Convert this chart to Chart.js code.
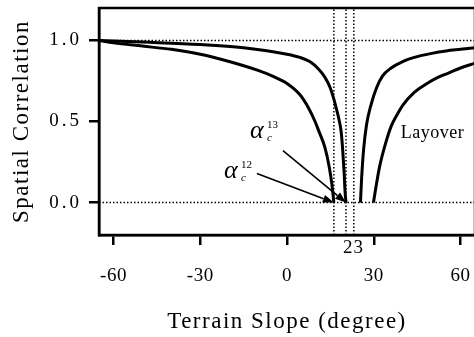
<!DOCTYPE html>
<html>
<head>
<meta charset="utf-8">
<script src="https://cdn.jsdelivr.net/npm/chart.js@4"></script>
<style>
html, body { margin: 0; padding: 0; overflow: hidden; background: #fff; }
</style>
</head>
<body>
<canvas id="chart" width="480" height="337"></canvas>
<script>
const xTicks = [-60, -30, 0, 30, 60];
const yTicks = [0, 0.5, 1.0];
const incidence = 23;

// baseline 12 (outer curves)
const b12LeftX  = [-65, -60, -50, -40, -30, -20, -10, -5, 0, 4.5, 7.4, 9.7, 10.8, 13.1, 14.6, 15.5, 16.2];
const b12LeftY  = [1.0, 0.985, 0.965, 0.945, 0.915, 0.87, 0.815, 0.78, 0.735, 0.665, 0.585, 0.50, 0.45, 0.34, 0.22, 0.115, 0.0];
const b12RightX = [29.9, 30.8, 32, 34, 36, 38, 40, 44, 48, 52, 56, 60, 65];
const b12RightY = [0.0, 0.1, 0.22, 0.36, 0.47, 0.54, 0.6, 0.68, 0.73, 0.77, 0.8, 0.83, 0.86];

// baseline 13 (inner curves)
const b13LeftX  = [-65, -50, -30, -15, 0, 4.5, 8, 10.8, 13.1, 14.9, 16, 17.2, 18, 18.7, 19.2, 19.7, 20.1, 20.4];
const b13LeftY  = [1.0, 0.99, 0.975, 0.955, 0.915, 0.895, 0.868, 0.825, 0.773, 0.71, 0.65, 0.57, 0.51, 0.44, 0.34, 0.2, 0.06, 0.0];
const b13RightX = [25.4, 25.8, 26.5, 27.5, 29, 31, 33, 36, 40, 45, 50, 55, 60, 65];
const b13RightY = [0.0, 0.15, 0.33, 0.48, 0.6, 0.71, 0.78, 0.83, 0.87, 0.9, 0.92, 0.935, 0.945, 0.955];

// dotted guide lines
const guideX = [16.2, 20.4, 23.1];
const guideY = [0, 1];

const xMin = -65, xMax = 65, yMin = -0.2, yMax = 1.2;

function pts(xs, ys) {
    return xs.map((x, i) => ({ x: x, y: ys[i] }));
}

function curve(xs, ys) {
    return {
        data: pts(xs, ys),
        borderColor: '#000',
        borderWidth: 3,
        pointRadius: 0,
        cubicInterpolationMode: 'monotone',
        fill: false
    };
}

function guide(data) {
    return {
        data: data,
        borderColor: '#000',
        borderWidth: 1.5,
        borderDash: [1.5, 2],
        pointRadius: 0,
        tension: 0,
        fill: false
    };
}

const datasets = [];
guideY.forEach(v => datasets.push(guide([{ x: xMin, y: v }, { x: xMax, y: v }])));
guideX.forEach(v => datasets.push(guide([{ x: v, y: yMin }, { x: v, y: yMax }])));
datasets.push(curve(b12LeftX, b12LeftY));
datasets.push(curve(b12RightX, b12RightY));
datasets.push(curve(b13LeftX, b13LeftY));
datasets.push(curve(b13RightX, b13RightY));

function arrow(ctx, x1, y1, x2, y2) {
    const a = Math.atan2(y2 - y1, x2 - x1);
    const head = 11, half = 4;
    const bx = x2 - head * Math.cos(a), by = y2 - head * Math.sin(a);
    ctx.beginPath();
    ctx.moveTo(x1, y1);
    ctx.lineTo(bx, by);
    ctx.stroke();
    ctx.beginPath();
    ctx.moveTo(x2, y2);
    ctx.lineTo(bx + half * Math.sin(a), by - half * Math.cos(a));
    ctx.lineTo(bx - half * Math.sin(a), by + half * Math.cos(a));
    ctx.closePath();
    ctx.fill();
}

function alphaLabel(ctx, px, py, sup) {
    ctx.textAlign = 'left';
    ctx.textBaseline = 'alphabetic';
    ctx.font = 'italic 26px "Liberation Serif"';
    ctx.fillText('α', px, py);
    ctx.font = '11px "Liberation Serif"';
    ctx.fillText(sup, px + 17, py - 10);
    ctx.font = 'italic 11px "Liberation Serif"';
    ctx.fillText('c', px + 17, py + 3);
}

const noPadding = scale => {
    scale.paddingTop = 0;
    scale.paddingBottom = 0;
    scale.paddingLeft = 0;
    scale.paddingRight = 0;
};

// tick labels of each axis get their own letter spacing
function spacedLabels(spacing) {
    return scale => {
        if (scale._spaced) return;
        const orig = scale.drawLabels;
        scale.drawLabels = function (area) {
            const prev = this.ctx.letterSpacing;
            this.ctx.letterSpacing = spacing;
            orig.call(this, area);
            this.ctx.letterSpacing = prev;
        };
        scale._spaced = true;
    };
}

const annotate = {
    id: 'annotate',
    beforeDraw(chart) {
        chart.ctx.letterSpacing = '1.5px';
    },
    afterDraw(chart) {
        const { ctx, chartArea: a, scales: { x, y } } = chart;
        ctx.save();
        ctx.letterSpacing = '0px';
        ctx.strokeStyle = '#000';
        ctx.fillStyle = '#000';

        // plot frame
        ctx.lineWidth = 2.5;
        ctx.strokeRect(a.left, a.top, a.right - a.left, a.bottom - a.top);

        // arrows to the critical slopes
        ctx.lineWidth = 1.6;
        arrow(ctx, x.getPixelForValue(-1.4), y.getPixelForValue(0.32), x.getPixelForValue(guideX[1]), y.getPixelForValue(0));
        arrow(ctx, x.getPixelForValue(-10.4), y.getPixelForValue(0.18), x.getPixelForValue(guideX[0]), y.getPixelForValue(0));

        alphaLabel(ctx, x.getPixelForValue(-12.8), y.getPixelForValue(0.40), '13');
        alphaLabel(ctx, x.getPixelForValue(-21.8), y.getPixelForValue(0.154), '12');

        ctx.letterSpacing = '0.5px';
        ctx.font = '18px "Liberation Serif"';
        ctx.textAlign = 'center';
        ctx.textBaseline = 'middle';
        ctx.fillText('Layover', x.getPixelForValue(50.3), y.getPixelForValue(0.43));

        ctx.letterSpacing = '1px';
        ctx.font = '19px "Liberation Serif"';
        ctx.fillText(String(incidence), x.getPixelForValue(incidence), a.bottom + 13);
        ctx.restore();
    }
};

new Chart(document.getElementById('chart'), {
    type: 'line',
    data: { datasets: datasets },
    options: {
        responsive: false,
        animation: false,
        layout: { padding: { top: 8, right: 5, left: 0, bottom: 0 } },
        plugins: {
            legend: { display: false },
            tooltip: { enabled: false }
        },
        scales: {
            x: {
                type: 'linear',
                min: xMin,
                max: xMax,
                afterFit: scale => { scale.height = 102; noPadding(scale); },
                afterUpdate: spacedLabels('0.5px'),
                afterBuildTicks: scale => { scale.ticks = xTicks.map(v => ({ value: v })); },
                grid: { drawOnChartArea: false, tickLength: 10, lineWidth: 2.5, color: '#000' },
                border: { display: true, width: 2.5, color: '#000' },
                ticks: {
                    color: '#000',
                    padding: 20,
                    maxRotation: 0,
                    font: { family: 'Liberation Serif', size: 19 }
                },
                title: {
                    display: true,
                    text: 'Terrain Slope (degree)',
                    color: '#000',
                    padding: { top: 0, bottom: 1 },
                    font: { family: 'Liberation Serif', size: 23 }
                }
            },
            y: {
                min: yMin,
                max: yMax,
                afterFit: scale => { scale.width = 99; noPadding(scale); },
                afterUpdate: spacedLabels('3px'),
                afterBuildTicks: scale => { scale.ticks = yTicks.map(v => ({ value: v })); },
                grid: { drawOnChartArea: false, tickLength: 10, lineWidth: 2.5, color: '#000' },
                border: { display: true, width: 2.5, color: '#000' },
                ticks: {
                    color: '#000',
                    padding: 7,
                    font: { family: 'Liberation Serif', size: 19 },
                    callback: v => v.toFixed(1)
                },
                title: {
                    display: true,
                    text: 'Spatial Correlation',
                    color: '#000',
                    padding: { top: 8, bottom: 0 },
                    font: { family: 'Liberation Serif', size: 23 }
                }
            }
        }
    },
    plugins: [annotate]
});
</script>
</body>
</html>
